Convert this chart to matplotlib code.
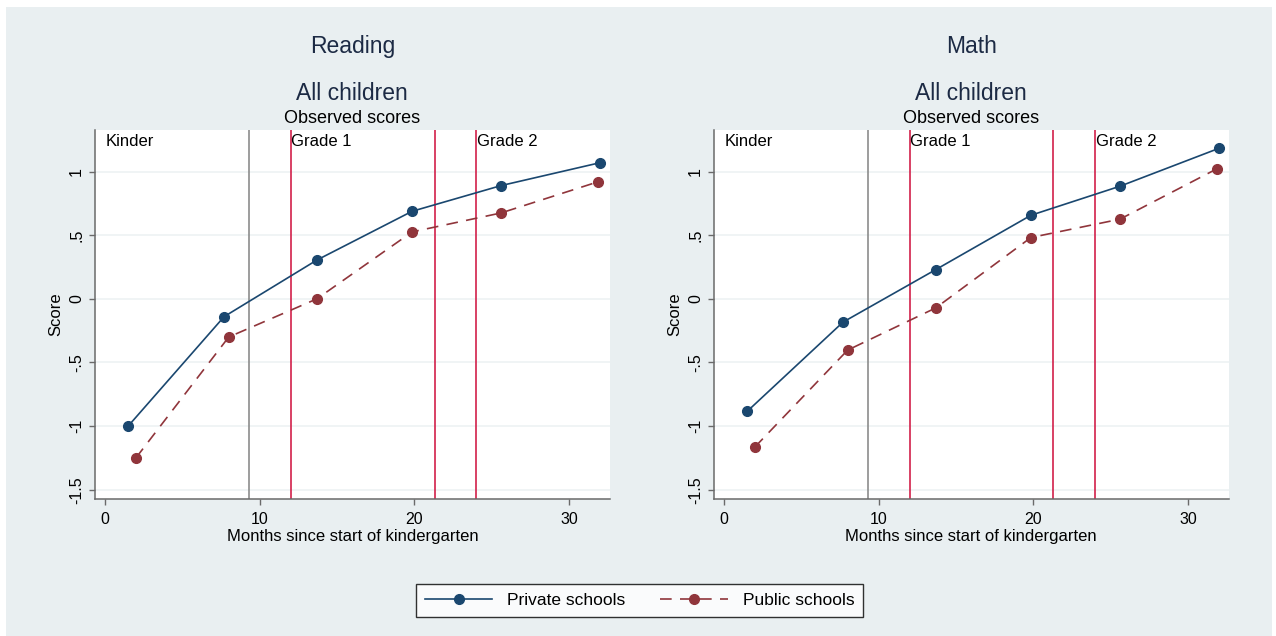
import matplotlib
matplotlib.use("Agg")
import matplotlib.pyplot as plt
from matplotlib.lines import Line2D
from matplotlib.patches import Rectangle

plt.rcParams["font.family"] = ["Liberation Sans", "DejaVu Sans"]

# Months since start of kindergarten at each assessment
private_months = [1.5, 7.7, 13.7, 19.85, 25.6, 32.0]
public_months = [2.0, 8.0, 13.7, 19.85, 25.6, 31.9]

# Observed standardized scores
reading_private = [-1.00, -0.14, 0.305, 0.688, 0.89, 1.07]
reading_public = [-1.25, -0.30, 0.00, 0.526, 0.675, 0.921]
math_private = [-0.885, -0.183, 0.23, 0.657, 0.885, 1.183]
math_public = [-1.165, -0.403, -0.071, 0.482, 0.626, 1.024]

panel_titles = ["Reading", "Math"]
subtitle = "All children"
note = "Observed scores"

# Grade boundaries (gray: end of kindergarten year; red: school-year markers)
gray_line = 9.3
red_lines = [12.0, 21.3, 24.0]
grade_labels = ["Kinder", "Grade 1", "Grade 2"]
grade_label_x = [0.0, 12.0, 24.0]

yticks = [-1.5, -1.0, -0.5, 0.0, 0.5, 1.0]
yticklabels = ["-1.5", "-1", "-.5", "0", ".5", "1"]
xticks = [0, 10, 20, 30]

NAVY = "#1a476f"
MAROON = "#90353b"
RED = "#d2204a"
GRAY = "#8c8c8c"
BG = "#e9eff1"
TITLE_C = "#1c2a44"

W, H = 1276, 636
fig = plt.figure(figsize=(W / 100, H / 100), dpi=100, facecolor="white")
fig.patches.append(Rectangle((6 / W, 0), 1266 / W, (H - 7) / H,
                             transform=fig.transFigure, facecolor=BG,
                             edgecolor="none", zorder=-10))

axes_left_px = [94.6, 713.5]
ax_w = 515.5 / W
ax_b = 1 - 499 / H
ax_h = (499 - 130) / H

panels = [(reading_private, reading_public), (math_private, math_public)]

for i, (priv, pub) in enumerate(panels):
    ax = fig.add_axes([axes_left_px[i] / W, ax_b, ax_w, ax_h])
    ax.set_facecolor("white")
    ax.set_xlim(-0.67, 32.65)
    ax.set_ylim(-1.573, 1.327)

    for yv in yticks:
        ax.axhline(yv, color="#edf2f4", lw=1.2, zorder=0)

    ax.axvline(gray_line, color=GRAY, lw=1.2, zorder=1)
    for xv in red_lines:
        ax.axvline(xv, color=RED, lw=1.2, zorder=1)

    for lbl, xv in zip(grade_labels, grade_label_x):
        ax.text(xv + 0.05, 1.24, lbl, fontsize=12, va="center", ha="left",
                color="black", zorder=2)

    ax.plot(private_months, priv, color=NAVY, lw=1.2, marker="o", ms=7,
            zorder=3)
    ax.plot(public_months, pub, color=MAROON, lw=1.2, ls=(0, (7, 5)),
            marker="o", ms=7, zorder=3)

    for side in ["top", "right"]:
        ax.spines[side].set_visible(False)
    for side in ["left", "bottom"]:
        ax.spines[side].set_color("#6a6a6a")
        ax.spines[side].set_linewidth(1.1)

    ax.set_xticks(xticks)
    ax.set_yticks(yticks)
    ax.set_yticklabels(yticklabels)
    ax.tick_params(axis="both", direction="out", length=4.5, width=1,
                   color="#6a6a6a", labelsize=11.5, pad=3)
    ax.tick_params(axis="x", pad=5)
    ax.tick_params(axis="y", labelrotation=90)
    for t in ax.get_yticklabels():
        t.set_va("center")

    ax.set_xlabel("Months since start of kindergarten", fontsize=12,
                  labelpad=1)
    ax.set_ylabel("Score", fontsize=12, labelpad=4)

    cx = (axes_left_px[i] + 515.5 / 2) / W
    fig.text(cx, 1 - 53.3 / H, panel_titles[i], fontsize=16.5, ha="center",
             va="baseline", color=TITLE_C)
    fig.text(cx, 1 - 100 / H, subtitle, fontsize=16.5, ha="center",
             va="baseline", color=TITLE_C)
    fig.text(cx, 1 - 123.3 / H, note, fontsize=13, ha="center",
             va="baseline", color="black")

handles = [
    Line2D([], [], color=NAVY, lw=1.2, marker="o", ms=7),
    Line2D([], [], color=MAROON, lw=1.2, ls=(0, (7, 5)), marker="o", ms=7),
]
leg = fig.legend(handles, ["Private schools", "Public schools"], ncol=2,
                 loc="center", bbox_to_anchor=(639.5 / W, 1 - 600.5 / H),
                 fontsize=12.5, frameon=True, fancybox=False,
                 edgecolor="black", handlelength=3.9, handletextpad=0.85,
                 columnspacing=2.0, borderpad=0.5, numpoints=1)
leg.get_frame().set_linewidth(1.0)
leg.get_frame().set_facecolor("white")

fig.savefig("out.png", dpi=100, facecolor=fig.get_facecolor())
